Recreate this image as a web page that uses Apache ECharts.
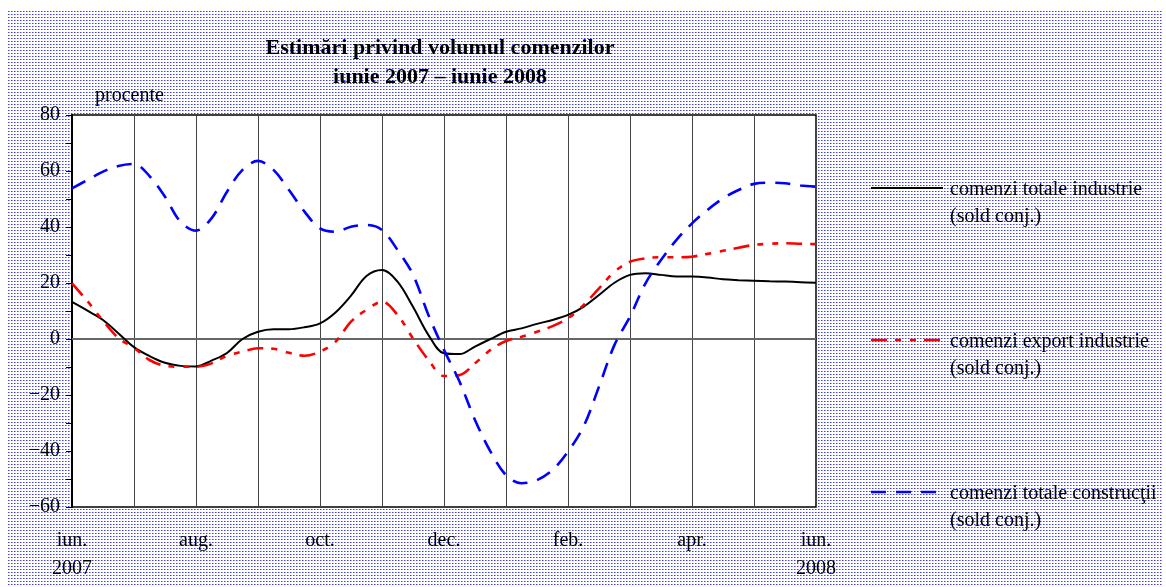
<!DOCTYPE html>
<html>
<head>
<meta charset="utf-8">
<script src="https://cdn.jsdelivr.net/npm/echarts@6/dist/echarts.min.js"></script>
<style>
html,body{margin:0;padding:0;background:#fff;}
#bg{position:absolute;left:7px;top:10px;width:1155px;height:575px;}
#chart{position:absolute;left:0;top:0;width:1166px;height:587px;}
</style>
</head>
<body>
<div id="bg"></div>
<div id="chart"></div>
<script>
// ---- data ----
const title = 'Estimări privind volumul comenzilor\niunie 2007 – iunie 2008';
const unitLabel = 'procente';
const monthLabels = ['iun.\n2007','', 'aug.','', 'oct.','', 'dec.','', 'feb.','', 'apr.','', 'iun.\n2008'];
const months = [0,0.25,0.5,0.75,1,1.25,1.5,1.75,2,2.25,2.5,2.75,3,3.25,3.5,3.75,4,4.25,4.5,4.75,5,5.25,5.5,5.75,6,6.25,6.5,6.75,7,7.25,7.5,7.75,8,8.25,8.5,8.75,9,9.25,9.5,9.75,10,10.25,10.5,10.75,11,11.25,11.5,11.75,12];
const totaleIndustrie = [13.3,10.1,6.8,2.0,-2.9,-6.1,-8.5,-9.6,-9.8,-7.7,-5.0,0.0,2.6,3.5,3.5,4.2,5.6,9.5,15.5,22.5,24.6,20.5,11.5,1.4,-5.1,-5.4,-2.7,0.0,2.6,3.8,5.4,6.8,8.6,11.5,15.7,20.1,22.9,23.5,22.9,22.3,22.3,22.0,21.3,21.0,20.8,20.6,20.5,20.3,20.1];
const exportIndustrie = [19.9,13.5,6.5,0.3,-3.2,-7.5,-9.6,-9.9,-9.9,-8.7,-6.0,-4.5,-3.3,-3.5,-4.9,-6.0,-4.5,-1.0,6.2,10.4,13.3,8.6,0.2,-7.5,-13.2,-12.9,-8.7,-3.9,-0.7,0.8,2.6,4.6,7.4,12.1,18.1,24.0,27.6,28.8,29.2,29.2,29.4,30.4,31.5,32.6,33.6,34.0,34.2,34.0,33.9];
const totaleConstructii = [53.8,56.8,59.8,61.8,62.5,58.2,50.8,41.9,38.7,43.1,52.6,60.4,63.6,60.4,53.2,45.5,39.5,38.3,40.1,40.7,38.9,31.8,23.0,8.5,-3.9,-15.2,-28.9,-40.2,-48.6,-51.5,-50.4,-46.8,-40.2,-31.3,-17.0,-2.1,8.0,19.9,28.2,35.4,41.3,46.1,50.2,53.2,55.4,55.8,55.6,54.8,54.4];
const seriesNames = ['comenzi totale industrie\n(sold conj.)','comenzi export industrie\n(sold conj.)','comenzi totale construcţii\n(sold conj.)'];
const yTicks = {min:-60, max:80, interval:20};

// ---- background dot pattern ----
(function(){
  const c = document.createElement('canvas'); c.width = 3; c.height = 3;
  const g = c.getContext('2d');
  g.fillStyle = '#ffffff'; g.fillRect(0,0,3,3);
  g.fillStyle = '#4040f0'; g.fillRect(1,1,1,1);
  g.fillStyle = '#9a9af2'; g.fillRect(2,1,1,1);
  document.getElementById('bg').style.backgroundImage = 'url(' + c.toDataURL() + ')';
})();

const pairs = arr => months.map((m,i)=>[m, arr[i]]);
const serif = '"Liberation Serif","Times New Roman",serif';
const colors = ['#000000','#ff0000','#0000ff'];
const dashes = ['solid',[16,8,6,9,6,8],[15,10]];
const widths = [2,2.6,2.6];
const data = [totaleIndustrie, exportIndustrie, totaleConstructii];
const legendY = [188, 340, 492];

const chart = echarts.init(document.getElementById('chart'), null, {renderer:'canvas'});
const graphics = [
  {type:'text', x:440, y:34, style:{text:title, font:'bold 22px '+serif, fill:'#000', textAlign:'center', lineHeight:29}},
  {type:'text', x:95, y:86, style:{text:unitLabel, font:'20px '+serif, fill:'#000'}}
];
seriesNames.forEach((n,i)=>{
  graphics.push({type:'line', shape:{x1:871,y1:legendY[i],x2:943,y2:legendY[i]}, style:{stroke:colors[i], lineWidth:widths[i], lineDash: dashes[i]==='solid'?null:dashes[i]}});
  graphics.push({type:'text', x:950, y:legendY[i]-12, style:{text:n, font:'20px '+serif, fill:'#000', lineHeight:27}});
});

chart.setOption({
  backgroundColor:'transparent',
  animation:false,
  textStyle:{fontFamily:serif},
  grid:{left:72, right:350, top:115, bottom:80, show:true, backgroundColor:'#ffffff', borderColor:'#000', borderWidth:1.5},
  xAxis:{type:'value', min:0, max:12, interval:1,
    axisLine:{show:true, lineStyle:{color:'#000', width:1.5}},
    axisTick:{show:false},
    splitLine:{show:true, lineStyle:{color:'#444', width:1}},
    axisLabel:{formatter:v=>monthLabels[Math.round(v)]||'', color:'#000', fontSize:20, fontFamily:serif, lineHeight:28, margin:20}
  },
  yAxis:{type:'value', min:yTicks.min, max:yTicks.max, interval:yTicks.interval,
    axisLine:{show:true, lineStyle:{color:'#000', width:2}},
    axisTick:{show:true, length:6, lineStyle:{color:'#000'}},
    minorTick:{show:true, splitNumber:2, length:6, lineStyle:{color:'#000'}},
    splitLine:{show:false},
    axisLabel:{formatter:v=> v<0 ? '\u2212'+(-v) : String(v), color:'#000', fontSize:20, fontFamily:serif, margin:12}
  },
  graphic:graphics,
  series: data.map((d,i)=>({
    type:'line', name:seriesNames[i], data:pairs(d), smooth:0.35, showSymbol:false, symbol:'none',
    lineStyle:{color:colors[i], width:widths[i], type:dashes[i]}, z: 3+i,
    markLine: i===0 ? {silent:true, symbol:['none','none'], label:{show:false}, lineStyle:{color:'#666', width:2, type:'solid'}, data:[{yAxis:0}], z:1} : undefined
  }))
});
</script>
</body>
</html>
